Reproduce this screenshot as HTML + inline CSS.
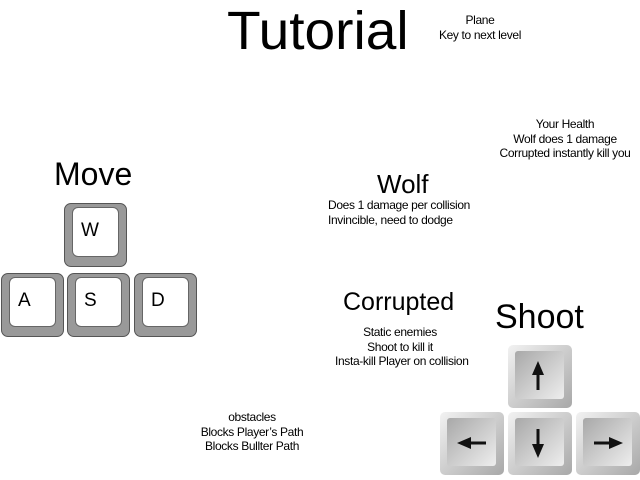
<!DOCTYPE html>
<html><head><meta charset="utf-8"><style>
body{margin:0;width:640px;height:480px;background:#fff;position:relative;overflow:hidden;font-family:"Liberation Sans",sans-serif;color:#000}
.t{position:absolute;white-space:nowrap;text-align:center;line-height:1}
.s{font-size:12px;letter-spacing:-0.35px;line-height:14.5px}
.k{position:absolute;width:63px;height:64px;box-sizing:border-box;border-radius:7px;background:#999;border:1px solid #555}
.k .i{position:absolute;left:7px;top:3px;right:7px;bottom:9px;background:#fff;border:1px solid #666;border-radius:6px;font-size:19px;padding:12px 0 0 8px;box-sizing:border-box}
.a{position:absolute;width:64px;height:63px;border-radius:5px;background:linear-gradient(135deg,#f2f2f2,#a8a8a8);}
.a .i{position:absolute;left:7px;top:6px;right:8px;bottom:9px;border-radius:3px;background:linear-gradient(135deg,#a8a8a8,#eee);}
.a svg{position:absolute;left:0;top:0}
</style></head><body>
<div class="t" style="left:227px;top:4px;font-size:54px;transform:scaleX(1.02);transform-origin:left">Tutorial</div>
<div class="t s" style="left:420px;top:13px;width:120px">Plane<br>Key to next level</div>
<div class="t s" style="left:480px;top:117px;width:170px">Your Health<br>Wolf does 1 damage<br>Corrupted instantly kill you</div>
<div class="t" style="left:54px;top:158px;font-size:32px">Move</div>
<div class="t" style="left:377px;top:171px;font-size:26px">Wolf</div>
<div class="t s" style="left:328px;top:198px;text-align:left">Does 1 damage per collision<br>Invincible, need to dodge</div>
<div class="t" style="left:343px;top:290px;font-size:25px">Corrupted</div>
<div class="t s" style="left:335px;top:325px;width:130px">Static enemies<br>Shoot to kill it<br>Insta-kill Player on collision</div>
<div class="t" style="left:495px;top:300px;font-size:34px">Shoot</div>
<div class="t s" style="left:187px;top:410px;width:130px">obstacles<br>Blocks Player’s Path<br>Blocks Bullter Path</div>

<div class="k" style="left:64px;top:203px"><div class="i">W</div></div>
<div class="k" style="left:1px;top:273px"><div class="i">A</div></div>
<div class="k" style="left:67px;top:273px"><div class="i">S</div></div>
<div class="k" style="left:134px;top:273px"><div class="i">D</div></div>

<div class="a" style="left:508px;top:345px"><div class="i"></div><svg width="64" height="63"><path d="M30 16 L24 30 L28.5 30 L28.5 45 L31.5 45 L31.5 30 L36 30 Z" fill="#111"/></svg></div>
<div class="a" style="left:440px;top:412px"><div class="i"></div><svg width="64" height="63"><path d="M17 31 L31 25 L31 29.5 L46 29.5 L46 32.5 L31 32.5 L31 37 Z" fill="#111"/></svg></div>
<div class="a" style="left:508px;top:412px"><div class="i"></div><svg width="64" height="63"><path d="M30 46 L24 32 L28.5 32 L28.5 17 L31.5 17 L31.5 32 L36 32 Z" fill="#111"/></svg></div>
<div class="a" style="left:576px;top:412px"><div class="i"></div><svg width="64" height="63"><path d="M47 31 L33 25 L33 29.5 L18 29.5 L18 32.5 L33 32.5 L33 37 Z" fill="#111"/></svg></div>
</body></html>
